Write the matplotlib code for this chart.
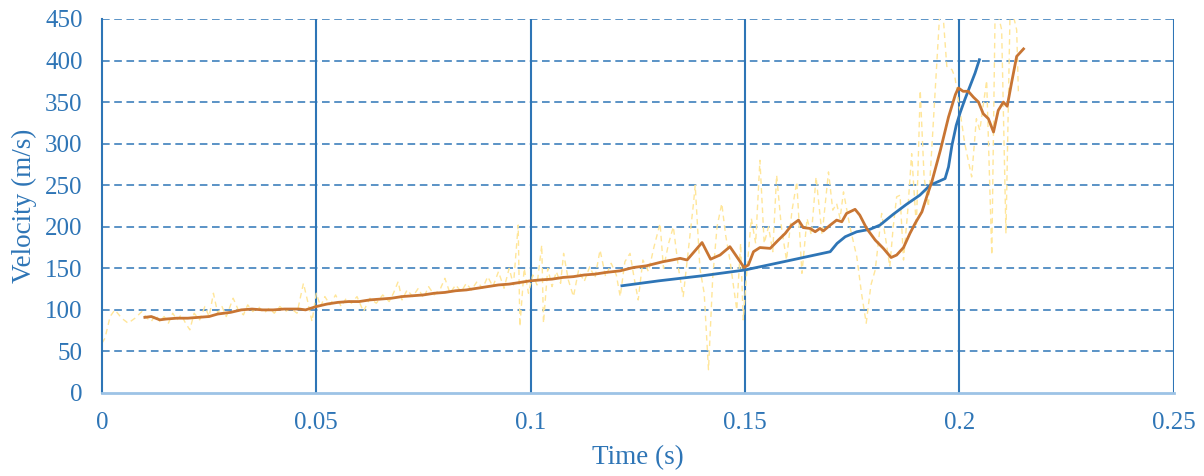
import matplotlib.pyplot as plt

# raw velocity samples (noisy)
raw_t = [0.0000, 0.0007, 0.0019, 0.0030, 0.0046, 0.0061, 0.0077, 0.0093, 0.0105, 0.0115,
         0.0125, 0.0135, 0.0145, 0.0155, 0.0165, 0.0175, 0.0185, 0.0195, 0.0205, 0.0215,
         0.0228, 0.0240, 0.0250, 0.0260, 0.0270, 0.0280, 0.0290, 0.0306, 0.0318, 0.0330,
         0.0340, 0.0352, 0.0365, 0.0378, 0.0390, 0.0402, 0.0415, 0.0428, 0.0440, 0.0455,
         0.0470, 0.0480, 0.0490, 0.0500, 0.0510, 0.0520, 0.0532, 0.0545, 0.0558, 0.0570,
         0.0582, 0.0595, 0.0610, 0.0625, 0.0640, 0.0655, 0.0670, 0.0680, 0.0691, 0.0700,
         0.0712, 0.0725, 0.0738, 0.0750, 0.0762, 0.0775, 0.0790, 0.0800, 0.0812, 0.0825,
         0.0838, 0.0850, 0.0862, 0.0875, 0.0888, 0.0900, 0.0912, 0.0925, 0.0938, 0.0950,
         0.0960, 0.0971, 0.0975, 0.0985, 0.0995, 0.1005, 0.1015, 0.1026, 0.1030, 0.1040,
         0.1050, 0.1060, 0.1070, 0.1077, 0.1088, 0.1100, 0.1112, 0.1125, 0.1138, 0.1150,
         0.1162, 0.1175, 0.1188, 0.1200, 0.1209, 0.1220, 0.1232, 0.1241, 0.1251, 0.1262,
         0.1275, 0.1288, 0.1302, 0.1310, 0.1322, 0.1333, 0.1345, 0.1356, 0.1368, 0.1380,
         0.1384, 0.1395, 0.1405, 0.1415, 0.1425, 0.1435, 0.1446, 0.1455, 0.1465, 0.1481,
         0.1490, 0.1496, 0.1505, 0.1515, 0.1525, 0.1535, 0.1545, 0.1555, 0.1565, 0.1574,
         0.1585, 0.1597, 0.1610, 0.1621, 0.1633, 0.1645, 0.1655, 0.1666, 0.1680, 0.1695,
         0.1705, 0.1714, 0.1722, 0.1730, 0.1745, 0.1761, 0.1772, 0.1783, 0.1794, 0.1804,
         0.1819, 0.1830, 0.1838, 0.1846, 0.1854, 0.1862, 0.1870, 0.1880, 0.1889, 0.1900,
         0.1909, 0.1918, 0.1928, 0.1940, 0.1956, 0.1963, 0.1971, 0.1983, 0.1990, 0.1998,
         0.2013, 0.2029, 0.2040, 0.2048, 0.2064, 0.2076, 0.2084, 0.2099, 0.2109, 0.2119,
         0.2134, 0.2138]
raw_v = [60, 66, 92, 100, 90, 84, 90, 98, 90, 86,
         94, 86, 92, 84, 96, 88, 94, 84, 76, 96,
         88, 104, 92, 120, 96, 104, 92, 114, 100, 94,
         106, 98, 104, 96, 102, 96, 104, 98, 102, 96,
         132, 110, 86, 120, 104, 116, 106, 118, 104, 114,
         108, 116, 98, 114, 108, 118, 110, 120, 134, 112,
         124, 116, 126, 114, 128, 118, 126, 138, 120, 130,
         122, 132, 124, 134, 126, 140, 128, 146, 126, 150,
         130, 202, 80, 150, 120, 142, 130, 178, 84, 150,
         128, 146, 132, 168, 136, 116, 148, 134, 152, 138,
         172, 140, 156, 142, 116, 158, 168, 140, 112, 160,
         146, 176, 204, 150, 180, 200, 150, 116, 172, 228,
         250, 150, 120, 28, 140, 200, 228, 190, 160, 100,
         180, 88, 150, 210, 180, 280, 180, 200, 170, 262,
         200, 160, 220, 254, 144, 210, 190, 260, 190, 266,
         220, 228, 210, 242, 200, 164, 120, 84, 130, 148,
         216, 180, 152, 200, 236, 238, 160, 220, 288, 200,
         364, 260, 224, 330, 470, 450, 393, 389, 380, 352,
         300, 260, 330, 316, 376, 166, 470, 437, 192, 470,
         437, 362]

# moving-average velocity
avg_t = [0.0100, 0.0115, 0.0135, 0.0150, 0.0175, 0.0200, 0.0225, 0.0250, 0.0270, 0.0300,
         0.0325, 0.0350, 0.0375, 0.0400, 0.0425, 0.0460, 0.0475, 0.0500, 0.0525, 0.0550,
         0.0575, 0.0600, 0.0625, 0.0650, 0.0675, 0.0700, 0.0725, 0.0750, 0.0775, 0.0800,
         0.0825, 0.0850, 0.0875, 0.0900, 0.0925, 0.0950, 0.0975, 0.1000, 0.1022, 0.1050,
         0.1075, 0.1100, 0.1125, 0.1150, 0.1175, 0.1209, 0.1240, 0.1270, 0.1309, 0.1330,
         0.1349, 0.1365, 0.1385, 0.1400, 0.1420, 0.1442, 0.1465, 0.1481, 0.1498, 0.1508,
         0.1520, 0.1535, 0.1559, 0.1578, 0.1594, 0.1609, 0.1625, 0.1636, 0.1652, 0.1664,
         0.1675, 0.1683, 0.1699, 0.1714, 0.1726, 0.1737, 0.1757, 0.1768, 0.1784, 0.1804,
         0.1823, 0.1841, 0.1854, 0.1870, 0.1885, 0.1897, 0.1913, 0.1924, 0.1936, 0.1956,
         0.1975, 0.1991, 0.1998, 0.2009, 0.2021, 0.2033, 0.2045, 0.2056, 0.2068, 0.2080,
         0.2091, 0.2103, 0.2112, 0.2122, 0.2134, 0.2150]
avg_v = [91, 92, 88, 89, 90, 90, 91, 92, 95, 97,
         100, 101, 100, 100, 101, 101, 100, 104, 107, 109,
         110, 110, 112, 113, 114, 116, 117, 118, 120, 121,
         123, 124, 126, 128, 130, 131, 133, 135, 136, 137,
         139, 140, 142, 143, 145, 147, 151, 153, 158, 160,
         162, 160, 172, 181, 161, 166, 176, 164, 151, 154,
         170, 175, 174, 184, 192, 202, 208, 199, 198, 194,
         198, 195, 202, 208, 206, 216, 221, 214, 198, 184,
         174, 163, 166, 175, 192, 204, 218, 236, 254, 292,
         332, 359, 367, 363, 363, 356, 350, 336, 330, 314,
         340, 350, 345, 373, 405, 414]

# model prediction
model_t = [0.1213, 0.1300, 0.1400, 0.1500, 0.1600, 0.1699, 0.1715, 0.1734, 0.1761, 0.1792,
           0.1815, 0.1846, 0.1877, 0.1908, 0.1932, 0.1967, 0.1975, 0.1983, 0.1993, 0.2002,
           0.2013, 0.2025, 0.2037, 0.2047]
model_v = [129, 135, 141, 148, 159, 170, 180, 188, 194, 197,
           202, 215, 227, 238, 250, 258, 272, 298, 322, 337,
           353, 369, 385, 401]

BLUE = '#2E75B6'
plt.rcParams['font.family'] = ['Liberation Serif', 'DejaVu Serif']

fig = plt.figure(figsize=(12.04, 4.76), dpi=100)
ax = fig.add_axes([0.0847, 0.1744, 0.8900, 0.7857])

ax.plot(raw_t, raw_v, color='#FFE699', lw=1.0, linestyle=(0, (4, 3)), zorder=2)
ax.plot(model_t, model_v, color=BLUE, lw=2.0, zorder=3)
ax.plot(avg_t, avg_v, color='#C87533', lw=2.0, zorder=4)

ax.set_xlim(0, 0.25)
ax.set_ylim(0, 450)
ax.set_xticks([0, 0.05, 0.1, 0.15, 0.2, 0.25])
ax.set_xticklabels(['0', '0.05', '0.1', '0.15', '0.2', '0.25'])
ax.set_yticks(range(0, 451, 50))

# grid: solid verticals, dashed horizontals
for x in [0.05, 0.1, 0.15, 0.2, 0.25]:
    ax.axvline(x, color=BLUE, lw=1.5, zorder=1)
for y in range(50, 451, 50):
    ax.axhline(y, color=BLUE, lw=1.1, linestyle=(0, (5, 3)), zorder=1)

for side in ['top', 'right']:
    ax.spines[side].set_visible(False)
ax.spines['left'].set_color(BLUE)
ax.spines['left'].set_linewidth(1.5)
ax.spines['bottom'].set_color('#9DC3E6')
ax.spines['bottom'].set_linewidth(2)

ax.tick_params(length=0, labelsize=18, labelcolor=BLUE)
ax.tick_params(axis='y', pad=14)
ax.tick_params(axis='x', pad=14)
ax.set_xlabel('Time (s)', fontsize=19.5, color=BLUE, labelpad=8)
ax.set_ylabel('Velocity (m/s)', fontsize=19.5, color=BLUE, labelpad=6)

fig.savefig('out.png', dpi=100)
